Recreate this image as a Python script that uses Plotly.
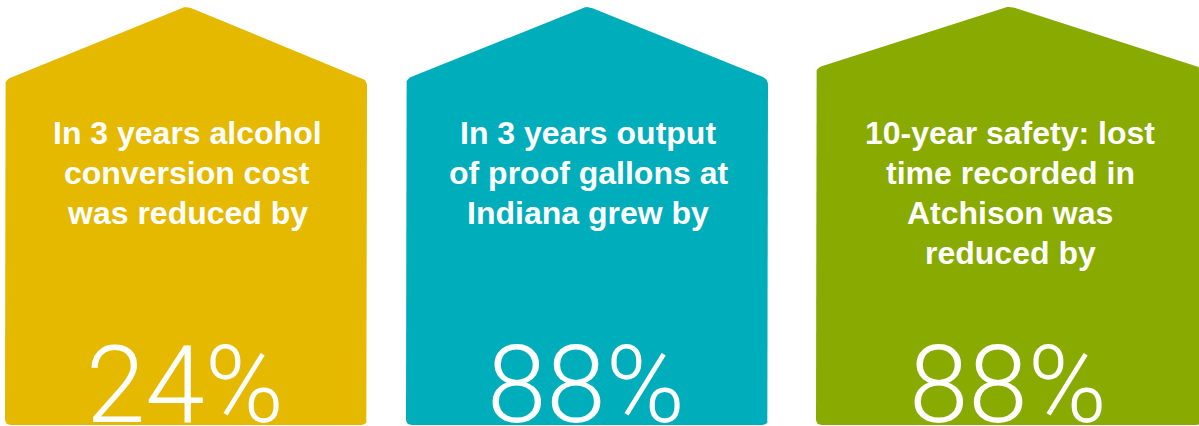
import math
import plotly.graph_objects as go

# ---- data ----
captions = [
    ["In 3 years alcohol", "conversion cost", "was reduced by"],
    ["In 3 years output", "of proof gallons at", "Indiana grew by"],
    ["10-year safety: lost", "time recorded in", "Atchison was", "reduced by"],
]
percent_values = [24, 88, 88]
panel_colors = ["#E5B900", "#00ADBB", "#89AA00"]

# ---- layout geometry (pixels) ----
W, H = 1199, 426
panels_geom = [
    dict(left=5, right=367, peak=186, eave=80),
    dict(left=406, right=768, peak=587, eave=79),
    dict(left=816, right=1202, peak=1009, eave=68),
]
TOP, BOTTOM = 6, 425
LINE0, LINE_STEP = 133, 40
NUM_Y = 385


def rounded_poly(pts, r):
    out = []
    n = len(pts)
    for i in range(n):
        p0 = pts[i - 1]
        p1 = pts[i]
        p2 = pts[(i + 1) % n]
        v1 = (p0[0] - p1[0], p0[1] - p1[1])
        v2 = (p2[0] - p1[0], p2[1] - p1[1])
        l1 = math.hypot(*v1)
        l2 = math.hypot(*v2)
        rr = min(r, l1 / 2, l2 / 2)
        a = (p1[0] + v1[0] / l1 * rr, p1[1] + v1[1] / l1 * rr)
        b = (p1[0] + v2[0] / l2 * rr, p1[1] + v2[1] / l2 * rr)
        for k in range(7):
            t = k / 6
            x = (1 - t) ** 2 * a[0] + 2 * (1 - t) * t * p1[0] + t ** 2 * b[0]
            y = (1 - t) ** 2 * a[1] + 2 * (1 - t) * t * p1[1] + t ** 2 * b[1]
            out.append((x, y))
    out.append(out[0])
    return out


fig = go.Figure()
annotations = []
for i, g in enumerate(panels_geom):
    verts = [
        (g["left"], BOTTOM),
        (g["left"], g["eave"]),
        (g["peak"], TOP),
        (g["right"], g["eave"]),
        (g["right"], BOTTOM),
    ]
    poly = rounded_poly(verts, 6)
    fig.add_trace(go.Scatter(
        x=[p[0] for p in poly], y=[p[1] for p in poly],
        mode="lines", fill="toself", fillcolor=panel_colors[i],
        line=dict(width=0, color=panel_colors[i]),
        hoverinfo="skip", showlegend=False,
    ))
    cx = g["peak"] + 1
    for j, line in enumerate(captions[i]):
        annotations.append(dict(
            x=cx, y=LINE0 + j * LINE_STEP, xref="x", yref="y",
            text=f"<b>{line}</b>", showarrow=False,
            xanchor="center", yanchor="middle",
            font=dict(family="Liberation Sans, Arial, sans-serif", size=32, color="white"),
        ))
    annotations.append(dict(
        x=cx - 2, y=NUM_Y, xref="x", yref="y",
        text=f"{percent_values[i]}%", showarrow=False,
        xanchor="center", yanchor="middle",
        font=dict(family="Roboto, sans-serif", size=107, color="white", weight=300),
    ))

fig.update_layout(
    width=W, height=H,
    margin=dict(l=0, r=0, t=0, b=0),
    paper_bgcolor="white", plot_bgcolor="white",
    xaxis=dict(range=[0, W], visible=False, fixedrange=True),
    yaxis=dict(range=[H, 0], visible=False, fixedrange=True),
    annotations=annotations,
    showlegend=False,
)
fig.write_html("out.html", config={"displayModeBar": False})
